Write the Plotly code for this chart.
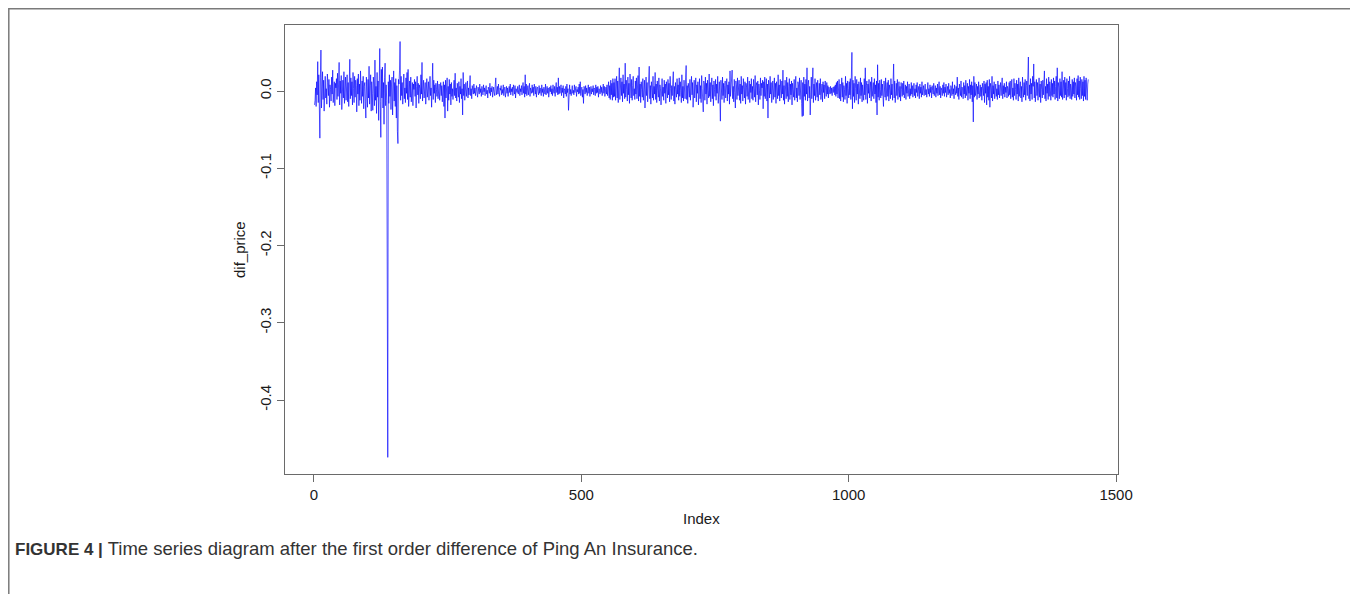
import plotly.graph_objects as go

# ---- data: first-order differences of Ping An Insurance price, by index ----
seg_a = [  # index 1-300 (volatile start, big drop near 137)
-0.018,-0.012,0.004,-0.02,0.012,-0.005,0.038,-0.015,0.021,-0.008,-0.061,0.017,0.053,-0.022,0.009,0.025,-0.011,0.014,-0.026,0.006,
0.019,-0.009,0.003,-0.017,0.022,0.011,-0.006,0.015,-0.021,0.008,0.002,-0.013,0.018,-0.004,0.027,-0.015,0.007,0.012,-0.019,0.01,
0.004,0.016,-0.011,0.023,-0.007,0.009,0.037,-0.018,0.013,-0.003,0.02,-0.024,0.006,0.014,-0.009,0.025,-0.016,0.001,0.018,-0.012,
0.008,0.021,-0.014,0.011,-0.02,0.005,0.041,-0.01,0.017,-0.006,0.012,-0.018,0.024,0.003,-0.015,0.019,-0.008,0.014,0.007,-0.027,
0.016,-0.004,0.022,-0.019,0.009,-0.012,0.026,0.002,-0.016,0.013,-0.007,0.019,-0.023,0.006,0.011,-0.014,-0.035,0.018,0.004,-0.021,
0.015,-0.009,0.032,-0.017,0.007,0.021,-0.026,0.012,-0.003,-0.025,0.018,0.009,-0.019,0.04,-0.012,0.006,-0.029,0.024,-0.008,0.013,
-0.038,0.02,0.055,-0.014,-0.06,0.028,-0.009,0.031,-0.022,0.011,-0.043,0.017,0.036,-0.019,0.008,-0.012,-0.247,-0.474,0.012,-0.016,
0.021,-0.007,0.014,-0.024,0.009,0.018,-0.031,0.005,0.026,-0.013,0.011,-0.02,0.016,-0.035,0.007,-0.052,-0.068,0.015,0.009,0.027,
0.064,-0.012,0.019,-0.006,0.011,-0.017,0.008,0.022,-0.01,0.004,-0.015,0.017,-0.003,0.024,-0.011,0.028,-0.02,0.006,0.013,-0.008,
0.018,-0.014,0.005,0.011,-0.019,0.009,0.002,0.015,-0.007,0.012,-0.022,0.006,0.019,-0.005,0.01,-0.016,0.008,0.003,-0.01,0.021,
-0.004,0.037,-0.013,0.007,0.014,-0.009,0.003,0.011,-0.017,0.006,0.016,-0.008,0.001,0.012,-0.012,0.007,0.019,-0.006,0.004,-0.021,
0.009,0.036,-0.011,0.014,-0.003,0.008,-0.015,0.01,0.002,-0.007,0.013,-0.01,0.005,0.009,-0.012,0.004,0.011,-0.006,0.007,-0.014,
0.003,0.012,-0.02,0.008,-0.035,0.014,-0.009,0.005,0.017,-0.026,0.006,-0.012,0.015,-0.004,0.009,-0.018,0.011,-0.007,0.003,-0.011,
0.008,0.014,-0.006,0.023,-0.009,0.004,-0.013,0.01,0.002,-0.008,0.012,-0.015,0.006,-0.004,0.016,-0.01,0.003,-0.031,0.024,-0.006,
0.009,-0.012,0.005,0.011,-0.007,0.002,0.013,-0.009,0.004,-0.005,0.008,0.02,-0.006,0.003,-0.01,0.007,0.001,-0.004,0.009,-0.003,
]
seg_b = [  # index 301-560 (quiet period)
0.004,-0.006,0.002,0.007,-0.003,-0.008,0.005,0.001,-0.004,0.009,-0.002,0.003,-0.007,0.006,0.0,-0.005,0.008,-0.001,0.004,-0.006,
0.003,0.007,-0.004,0.001,-0.009,0.005,0.002,-0.003,0.01,-0.006,0.004,-0.001,0.006,-0.008,0.003,0.005,-0.002,-0.006,0.008,0.017,
-0.005,0.003,0.006,-0.004,0.009,-0.002,-0.007,0.004,0.001,0.007,-0.005,0.002,-0.003,0.008,-0.006,0.003,0.005,-0.008,0.002,0.006,
-0.003,0.004,-0.007,0.001,0.006,-0.002,0.009,-0.005,0.003,-0.001,0.005,-0.006,0.008,0.002,-0.004,0.007,-0.009,0.003,0.001,-0.002,
0.006,-0.004,0.002,0.008,-0.006,0.003,-0.001,0.007,-0.005,0.004,0.011,-0.003,0.006,-0.008,0.021,-0.004,0.009,-0.006,0.002,0.007,
-0.005,0.003,0.01,-0.007,0.004,0.001,-0.003,0.008,-0.002,0.005,-0.006,0.009,0.002,-0.004,0.006,-0.008,0.003,0.005,-0.001,-0.005,
0.007,-0.003,0.004,0.001,-0.006,0.008,-0.002,0.003,-0.007,0.005,0.002,-0.004,0.009,-0.005,0.001,0.006,-0.003,0.004,-0.008,0.002,
0.005,-0.001,0.007,-0.004,0.003,-0.006,0.008,0.0,-0.003,0.006,-0.007,0.004,0.011,-0.002,0.005,-0.005,0.017,-0.004,0.006,-0.003,
0.002,0.008,-0.006,0.004,-0.002,0.007,-0.009,0.003,0.001,-0.004,0.006,-0.007,0.009,-0.002,0.003,-0.025,0.005,0.008,-0.004,0.002,
-0.006,0.004,0.007,-0.003,0.001,-0.005,0.008,-0.002,0.004,0.006,-0.007,0.002,-0.001,0.005,-0.004,0.009,-0.003,0.012,-0.006,0.003,
0.005,-0.008,0.002,-0.016,0.006,0.003,-0.004,0.007,-0.002,0.004,-0.006,0.001,0.008,-0.003,0.005,-0.007,0.002,0.006,-0.004,0.003,
-0.001,0.007,-0.005,0.004,0.002,-0.006,0.008,-0.003,0.005,-0.002,0.006,-0.008,0.003,0.001,-0.004,0.007,-0.002,0.005,-0.006,0.004,
0.009,-0.003,0.006,-0.007,0.002,0.005,-0.004,0.008,-0.006,0.003,0.012,-0.009,0.007,-0.011,0.014,-0.005,0.01,-0.012,0.016,-0.008,
]
seg_c = [  # index 561-1140 (moderate volatility)
0.011,-0.007,0.016,-0.012,0.004,0.019,-0.009,0.013,-0.015,0.006,0.03,-0.011,0.008,0.017,-0.006,0.012,-0.014,0.021,-0.003,0.009,
-0.01,0.036,-0.008,0.014,0.002,-0.013,0.018,-0.005,0.01,-0.016,0.022,0.004,-0.009,0.015,-0.012,0.007,0.019,-0.006,0.003,-0.011,
0.013,-0.004,0.017,-0.01,0.006,0.02,-0.013,0.031,-0.007,0.009,-0.015,0.012,0.002,-0.008,0.016,-0.012,0.005,0.014,-0.022,0.008,
0.018,-0.006,0.011,-0.014,0.003,0.015,0.032,-0.01,0.007,-0.017,0.012,0.004,-0.009,0.019,-0.012,0.006,-0.004,0.024,-0.011,0.009,
-0.015,0.013,0.001,-0.008,0.017,-0.013,0.008,0.003,-0.018,0.011,0.016,-0.007,0.005,-0.012,0.014,-0.003,0.009,-0.016,0.012,0.002,
-0.009,0.015,-0.005,0.01,-0.014,0.019,0.003,-0.011,0.007,-0.006,0.013,0.025,-0.013,0.006,-0.017,0.011,0.002,-0.008,0.016,-0.004,
0.008,-0.012,0.017,-0.007,0.012,0.001,-0.015,0.021,-0.009,0.006,-0.013,0.014,0.004,-0.01,0.018,0.033,-0.011,0.007,-0.016,0.01,
0.003,-0.008,0.015,-0.012,0.009,0.019,-0.005,0.011,-0.021,0.006,0.014,-0.009,0.002,0.017,-0.014,0.008,-0.003,0.012,-0.018,0.005,
0.016,-0.01,0.007,-0.015,0.02,0.003,-0.006,-0.027,0.013,0.009,-0.012,0.018,-0.004,0.01,-0.017,0.014,0.001,-0.009,0.022,-0.007,
0.011,-0.014,0.005,0.017,-0.01,0.008,-0.019,0.013,0.002,-0.007,0.015,-0.012,0.009,-0.003,0.019,-0.016,0.006,0.012,-0.008,-0.039,
0.014,0.004,-0.011,0.018,-0.006,0.01,-0.015,0.007,0.013,-0.009,0.002,0.016,-0.013,0.008,-0.004,0.012,-0.017,0.026,-0.007,0.005,
0.011,0.027,-0.01,0.006,-0.014,0.015,-0.002,-0.022,0.013,0.008,-0.011,0.017,-0.006,0.003,0.014,-0.012,0.009,-0.016,0.019,-0.004,
0.007,-0.013,0.016,0.002,-0.009,0.012,-0.017,0.01,0.005,-0.007,0.018,-0.011,0.004,0.013,-0.015,0.009,-0.002,0.016,-0.01,0.006,
-0.012,0.015,0.003,-0.008,0.02,-0.014,0.007,0.011,-0.005,0.013,-0.018,0.009,0.001,-0.011,0.017,-0.006,0.01,0.004,0.014,-0.023,
0.012,-0.007,0.018,-0.01,0.005,0.016,-0.013,0.009,-0.035,0.014,0.007,-0.009,0.019,-0.004,0.011,-0.015,0.006,0.013,-0.011,0.002,
0.017,-0.008,0.01,-0.016,0.012,0.004,-0.01,0.021,-0.006,0.008,-0.013,0.015,0.001,-0.009,0.013,-0.004,0.027,-0.012,0.007,-0.017,
0.014,0.003,-0.01,0.018,-0.007,0.011,-0.014,0.006,0.016,-0.011,0.009,-0.005,0.013,-0.018,0.01,0.002,-0.008,0.015,-0.012,0.007,
0.019,-0.009,0.004,-0.014,0.012,0.008,-0.006,0.017,-0.011,0.005,0.014,-0.016,-0.033,0.011,-0.032,0.018,-0.007,0.009,-0.012,0.015,
-0.004,0.03,-0.013,0.008,0.014,-0.009,0.006,-0.031,0.012,0.018,-0.01,0.004,0.03,-0.015,0.009,-0.006,0.016,-0.012,0.003,0.011,
-0.008,0.014,-0.013,0.006,0.01,-0.005,0.016,-0.011,0.003,0.009,-0.014,0.012,-0.002,0.008,-0.01,0.013,0.001,-0.007,0.011,-0.004,
0.007,-0.009,0.005,0.002,-0.004,0.006,-0.003,0.004,-0.006,0.003,0.005,-0.002,0.006,-0.005,0.008,-0.007,0.011,-0.004,0.013,-0.009,
0.006,0.015,-0.01,0.009,-0.013,0.004,0.017,-0.008,0.011,-0.014,0.007,0.002,-0.011,0.019,-0.006,0.01,-0.016,0.013,0.003,-0.009,
0.012,-0.005,0.016,-0.011,0.008,0.05,-0.023,0.014,-0.007,0.01,-0.015,0.019,0.003,-0.012,0.015,-0.004,0.009,-0.017,0.012,0.005,
-0.01,0.017,-0.006,0.011,-0.014,0.008,0.002,-0.012,0.016,-0.005,0.03,-0.011,0.007,0.013,-0.016,0.009,-0.003,0.015,-0.009,0.004,
0.012,-0.013,0.018,-0.007,0.005,0.011,-0.01,0.016,-0.004,0.008,-0.015,0.013,-0.031,0.034,-0.008,0.01,-0.012,0.014,0.002,-0.009,
0.015,-0.006,0.009,-0.011,-0.02,0.013,0.006,-0.008,0.017,-0.012,0.004,0.011,-0.007,0.014,-0.013,0.008,0.001,-0.01,0.016,-0.005,
0.009,-0.012,0.006,0.035,-0.009,0.013,-0.015,0.007,0.01,-0.006,0.015,-0.011,0.003,0.012,-0.008,0.006,-0.013,0.011,0.002,-0.007,
0.01,-0.005,0.013,-0.009,0.004,0.008,-0.011,0.006,-0.003,0.012,-0.007,0.005,0.009,-0.01,0.003,-0.006,0.011,-0.004,0.007,-0.008,
0.005,0.01,-0.006,0.003,-0.009,0.008,-0.002,0.011,-0.007,0.004,0.006,-0.01,0.009,-0.003,0.005,-0.008,0.012,-0.005,0.002,0.007,
]
seg_d = [  # index 1141-1300 (calmer)
-0.006,0.004,0.009,-0.005,0.002,-0.008,0.006,0.011,-0.004,0.003,-0.007,0.008,-0.002,0.005,-0.009,0.007,0.001,-0.004,0.01,-0.006,
0.003,0.007,-0.008,0.004,-0.003,0.009,-0.006,0.002,0.012,-0.005,0.006,-0.009,0.004,0.001,-0.006,0.008,-0.003,0.011,-0.007,0.005,
-0.002,0.009,-0.008,0.004,0.006,-0.005,0.01,-0.003,0.002,-0.009,0.007,0.004,-0.006,0.012,-0.004,0.003,-0.01,0.008,0.001,-0.005,
0.006,-0.003,0.018,-0.007,0.004,-0.011,0.009,0.002,-0.006,0.013,-0.008,0.005,0.003,-0.01,0.011,-0.004,0.007,-0.009,0.014,-0.006,
0.004,0.01,-0.012,0.006,-0.003,0.015,-0.01,0.008,-0.005,0.012,-0.014,0.007,-0.04,0.019,-0.008,0.011,-0.006,0.003,0.009,-0.011,
0.006,-0.004,0.012,-0.009,0.002,0.008,-0.007,0.005,-0.012,0.01,0.003,-0.006,0.013,-0.015,0.009,-0.003,0.011,-0.018,0.014,-0.008,
0.006,-0.012,0.015,-0.021,0.01,0.004,-0.009,0.019,-0.013,0.007,-0.004,0.012,-0.01,0.005,0.009,-0.007,0.003,-0.011,0.013,-0.005,
0.008,-0.009,0.004,0.011,-0.006,0.002,0.017,-0.01,0.007,-0.004,0.01,-0.008,0.005,-0.002,0.012,-0.009,0.006,0.003,-0.007,0.011,
]
seg_e = [  # index 1301-1448
-0.005,0.013,-0.01,0.007,0.015,-0.008,0.004,-0.012,0.016,-0.006,0.01,0.002,-0.011,0.014,-0.004,0.009,-0.013,0.017,-0.007,0.005,
0.012,-0.009,0.006,-0.014,0.018,0.003,-0.008,0.011,-0.005,0.015,-0.012,0.007,0.013,-0.006,0.021,0.044,-0.01,0.008,-0.013,0.016,
-0.004,0.01,-0.011,0.019,0.006,0.035,-0.009,0.012,-0.014,0.008,0.015,-0.006,0.011,-0.012,0.004,0.017,-0.008,0.009,-0.015,0.013,
0.002,-0.009,0.014,-0.005,0.011,0.026,-0.01,0.006,-0.013,0.016,-0.003,0.009,-0.011,0.018,-0.007,0.012,0.004,-0.012,0.015,-0.006,
0.01,-0.008,0.017,-0.004,0.013,-0.011,0.006,0.019,-0.009,0.03,-0.013,0.011,0.005,-0.01,0.016,-0.006,0.012,-0.008,0.025,-0.011,
0.007,0.014,-0.009,0.018,-0.005,0.011,-0.012,0.016,0.003,-0.008,0.013,-0.006,0.019,-0.01,0.009,0.004,-0.011,0.015,-0.007,0.012,
-0.004,0.017,-0.009,0.011,0.006,-0.012,0.016,-0.005,0.02,-0.008,0.013,-0.011,0.018,0.003,-0.01,0.015,-0.006,0.012,-0.013,0.019,
-0.007,0.014,-0.011,0.017,0.004,-0.012,0.009,0.015,
]
dif_price = seg_a + seg_b + seg_c + seg_d + seg_e
index = list(range(1, len(dif_price) + 1))

x_tickvals = [0, 500, 1000, 1500]
x_ticktext = ["0", "500", "1000", "1500"]
y_tickvals = [0.0, -0.1, -0.2, -0.3, -0.4]
y_ticktext = ["0.0", "-0.1", "-0.2", "-0.3", "-0.4"]

caption = ("<b>FIGURE 4 |</b><span style=\"font-size:18.5px\"> Time series "
           "diagram after the first order difference of Ping An Insurance.</span>")

# ---- layout geometry (screen pixels; page body has an 8px margin) ----
OFF = 8
SW, SH = 1358, 594
W, H = SW - OFF, SH - OFF
L, R, T, B = 285, 1118, 25, 474
pw, ph = R - L, B - T


def px_x(px):
    return (px - L) / pw


def px_y(py):
    return (B - py) / ph


FONT = "Liberation Sans, Arial, Helvetica, sans-serif"
AXC = "#6a6a6a"
TXT = "#1a1a1a"

fig = go.Figure()
fig.add_trace(go.Scatter(
    x=index, y=dif_price, mode="lines",
    line=dict(color="#0000ff", width=0.65),
    hoverinfo="x+y", showlegend=False,
))

axis_common = dict(
    showgrid=False, zeroline=False, showline=True, mirror=True,
    linecolor=AXC, linewidth=1, ticks="outside", ticklen=7,
    tickcolor=AXC, tickwidth=1,
    tickfont=dict(family=FONT, size=15, color=TXT),
)
fig.update_xaxes(range=[-54.2, 1503.6], tickvals=x_tickvals,
                 ticktext=x_ticktext, **axis_common)
fig.update_yaxes(range=[-0.4955, 0.0854], tickvals=y_tickvals,
                 ticktext=y_ticktext, tickangle=-90, **axis_common)

fig.update_layout(
    width=W, height=H, autosize=False,
    margin=dict(l=L - OFF, r=SW - R, t=T - OFF, b=SH - B, pad=0),
    paper_bgcolor="white", plot_bgcolor="white",
    font=dict(family=FONT, color=TXT),
    annotations=[
        dict(text="Index", x=px_x(701), y=px_y(518), xref="paper", yref="paper",
             showarrow=False, xanchor="center", yanchor="middle",
             font=dict(family=FONT, size=15, color=TXT)),
        dict(text="dif_price", x=px_x(239), y=px_y(250), xref="paper",
             yref="paper", showarrow=False, textangle=-90,
             xanchor="center", yanchor="middle",
             font=dict(family=FONT, size=15, color=TXT)),
        dict(text=caption, x=px_x(13), y=px_y(548), xref="paper", yref="paper",
             showarrow=False, xanchor="left", yanchor="middle",
             font=dict(family=FONT, size=17, color="#333333")),
    ],
    shapes=[
        dict(type="rect", xref="paper", yref="paper",
             x0=px_x(OFF + 0.8), x1=px_x(1351), y0=px_y(600), y1=px_y(OFF + 0.8),
             line=dict(color="#7a7a7a", width=1.5), layer="below"),
    ],
)

fig.write_html("out.html")
